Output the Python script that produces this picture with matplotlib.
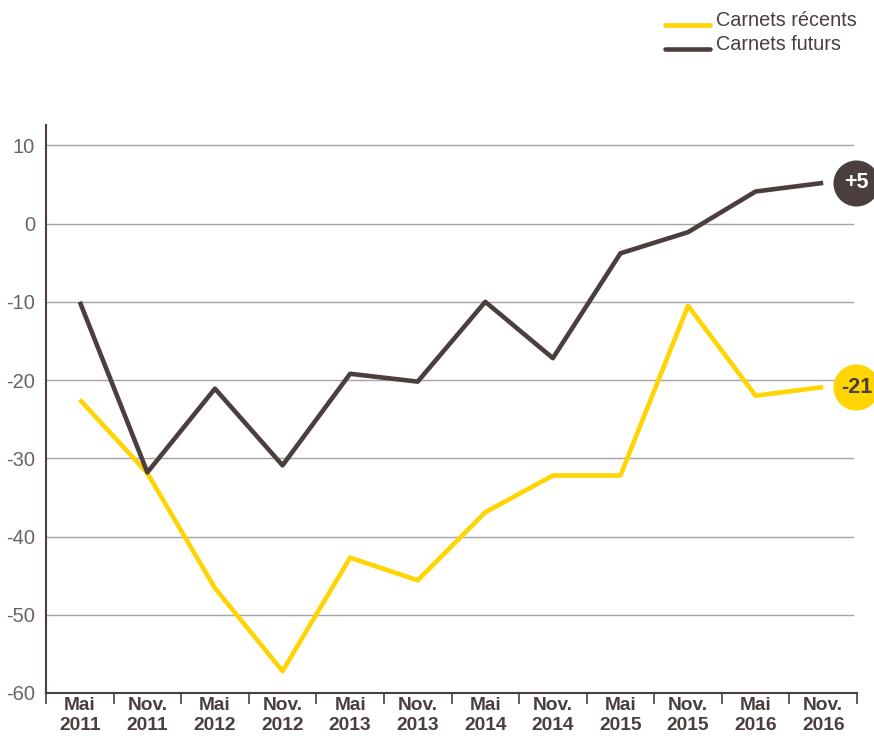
import matplotlib
matplotlib.use("Agg")
import matplotlib.pyplot as plt
import numpy as np

###------------------------data----------------------------###
periods = ["Mai\n2011", "Nov.\n2011", "Mai\n2012", "Nov.\n2012", "Mai\n2013", "Nov.\n2013",
           "Mai\n2014", "Nov.\n2014", "Mai\n2015", "Nov.\n2015", "Mai\n2016", "Nov.\n2016"]
carnets_recents = [-22.5, -31.9, -46.6, -57.2, -42.7, -45.6, -36.9, -32.2, -32.2, -10.5, -22.0, -20.9]
carnets_futurs = [-10.0, -31.8, -21.1, -30.9, -19.2, -20.2, -10.0, -17.2, -3.8, -1.1, 4.1, 5.2]
yticks = [10, 0, -10, -20, -30, -40, -50, -60]
badge_recents = "-21"
badge_futurs = "+5"

###-----------------------styles---------------------------###
yellow = "#FFD400"
dark = "#4A3F3D"
grey_txt = "#6B6361"
grid_col = "#A8A2A0"
plt.rcParams["font.family"] = ["Liberation Sans", "DejaVu Sans"]

fig = plt.figure(figsize=(8.74, 7.39), dpi=100)
ax = fig.add_axes([46 / 874, 1 - 693 / 739, (857 - 46) / 874, (693 - 125) / 739])

x = np.arange(len(periods))
ax.set_xlim(-0.5, len(periods) - 0.5)
ax.set_ylim(-60, 12.6)

for v in yticks[:-1]:
    ax.axhline(v, xmin=0, xmax=(853 - 46) / (857 - 46), color=grid_col, lw=1.0, zorder=1)

ax.plot(x, carnets_recents, color=yellow, lw=3.3, solid_capstyle="butt", zorder=3)
ax.plot(x, carnets_futurs, color=dark, lw=3.3, solid_capstyle="butt", zorder=3)

###-----------------------badges---------------------------###
bx = 11.49
ax.scatter([bx], [carnets_futurs[-1]], s=1100, color=dark, clip_on=False, zorder=5, lw=0)
ax.text(bx, carnets_futurs[-1], badge_futurs, color="white", fontsize=15.5, fontweight="bold",
        ha="center", va="center", zorder=6, clip_on=False)
ax.scatter([bx], [carnets_recents[-1]], s=1100, color=yellow, clip_on=False, zorder=5, lw=0)
ax.text(bx, carnets_recents[-1], badge_recents, color=dark, fontsize=15.5, fontweight="bold",
        ha="center", va="center", zorder=6, clip_on=False)

###------------------------axes----------------------------###
for s in ["top", "right"]:
    ax.spines[s].set_visible(False)
for s in ["left", "bottom"]:
    ax.spines[s].set_color(dark)
    ax.spines[s].set_linewidth(1.5)

ax.set_yticks(yticks)
ax.set_yticklabels([str(v) for v in yticks])
ax.tick_params(axis="y", length=0, pad=8, labelsize=14.5, labelcolor=grey_txt)

ax.set_xticks(x)
ax.set_xticklabels(periods, fontweight="bold", fontsize=13.8, color=dark, linespacing=1.18)
ax.set_xticks(np.arange(-0.5, len(periods), 1.0), minor=True)
ax.tick_params(axis="x", which="major", length=0, pad=3)
ax.tick_params(axis="x", which="minor", length=8, width=1.2, color=dark, direction="out")

###-----------------------legend---------------------------###
fig.lines.append(plt.Line2D([665 / 874, 710 / 874], [1 - 25 / 739] * 2, transform=fig.transFigure,
                            color=yellow, lw=3.3, solid_capstyle="round"))
fig.lines.append(plt.Line2D([665 / 874, 710 / 874], [1 - 49 / 739] * 2, transform=fig.transFigure,
                            color=dark, lw=3.3, solid_capstyle="round"))
fig.text(716 / 874, 1 - 21 / 739, "Carnets récents", color=dark, fontsize=14.3, va="center", ha="left")
fig.text(716 / 874, 1 - 45 / 739, "Carnets futurs", color=dark, fontsize=14.3, va="center", ha="left")

fig.savefig("out.png", dpi=100)
